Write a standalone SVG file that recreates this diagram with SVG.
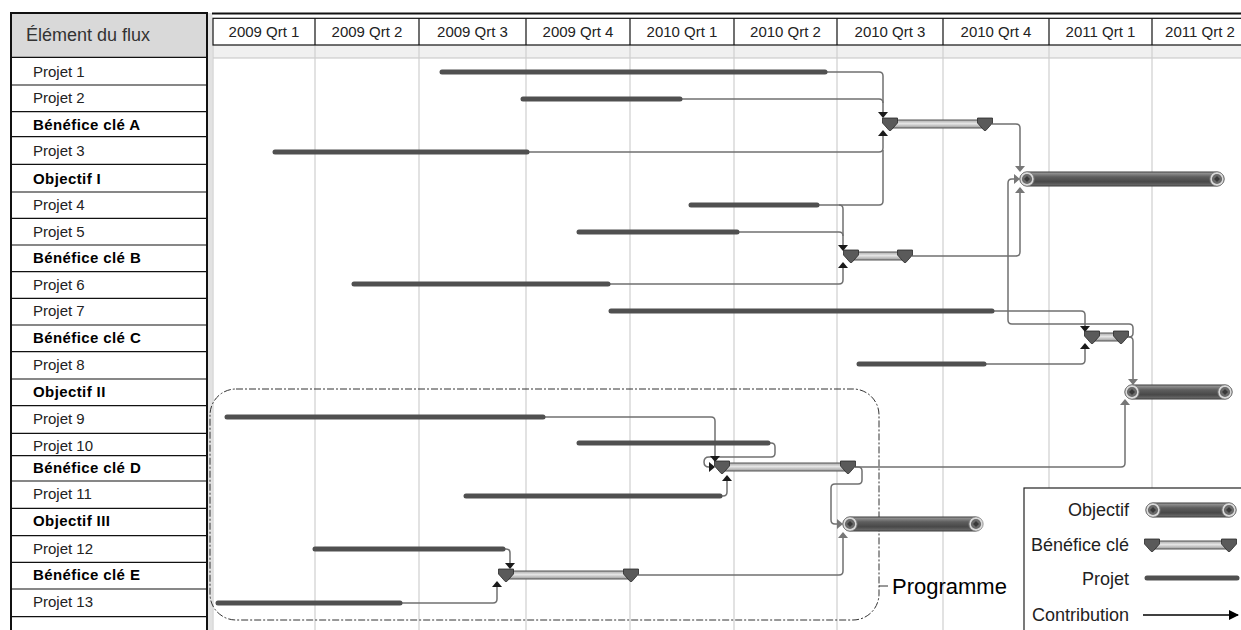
<svg xmlns="http://www.w3.org/2000/svg" width="1241" height="630" viewBox="0 0 1241 630">
<style>
text{font-family:"Liberation Sans",Arial,sans-serif}
.lbl{font-size:15px;fill:#222}
.b{font-weight:bold;fill:#000;letter-spacing:0.4px}
.q{font-size:15px;fill:#222;text-anchor:middle}
.grid{stroke:#cfcfcf;stroke-width:1.2}
.row{stroke:#111;stroke-width:1.2}
.proj{stroke:#505050;stroke-width:5;stroke-linecap:round}
.con{fill:none;stroke:#707070;stroke-width:1.5}
.bb{fill:url(#bg);stroke:#555;stroke-width:1}
.ob{fill:url(#og);stroke:#3a3a3a;stroke-width:1}
.bm{fill:#5a5a5a;stroke:#2a2a2a;stroke-width:0.8}
.ak{fill:#1a1a1a}
.ag{fill:#777}
.leg{font-size:18px;fill:#222;text-anchor:end}
</style>
<defs>
<linearGradient id="og" x1="0" y1="0" x2="0" y2="1">
<stop offset="0" stop-color="#a0a0a0"/><stop offset="0.35" stop-color="#5e5e5e"/><stop offset="0.7" stop-color="#484848"/><stop offset="1" stop-color="#707070"/>
</linearGradient>
<linearGradient id="bg" x1="0" y1="0" x2="0" y2="1">
<stop offset="0" stop-color="#a8a8a8"/><stop offset="0.45" stop-color="#e6e6e6"/><stop offset="1" stop-color="#9a9a9a"/>
</linearGradient>
<path id="td" d="M-5 -6 H5 L0 0 Z"/>
<path id="tu" d="M-5 6 H5 L0 0 Z"/>
<path id="tr" d="M-6 -5 V5 L0 0 Z"/>
<path id="bm" d="M-7.5 -6 H7.5 V-1 L0.8 6.5 H-0.8 L-7.5 -1 Z"/>
<g id="ring"><circle r="6" fill="#6a6a6a" stroke="#dadada" stroke-width="1.8"/><circle r="7.2" fill="none" stroke="#808080" stroke-width="0.7"/><path d="M0 -3 L3 0 L0 3 L-3 0 Z" fill="#3a3a3a"/></g>
<marker id="ah" viewBox="0 0 10 10" refX="9" refY="5" markerWidth="10" markerHeight="10" markerUnits="userSpaceOnUse" orient="auto"><path d="M0 0 L10 5 L0 10 Z" fill="#000"/></marker>
</defs>
<rect width="1241" height="630" fill="#fff"/>

<g id="table">
<rect x="11" y="13" width="196" height="44.3" fill="#d9d9d9"/>
<rect x="11" y="13" width="196" height="640" fill="none" stroke="#111" stroke-width="2"/>
<text x="26" y="41" style="font-size:18px;fill:#333">Élément du flux</text>
<g class="row">
<line x1="11" y1="57.3" x2="207" y2="57.3"/><line x1="11" y1="85" x2="207" y2="85"/><line x1="11" y1="111.7" x2="207" y2="111.7"/><line x1="11" y1="136.7" x2="207" y2="136.7"/><line x1="11" y1="164.3" x2="207" y2="164.3"/><line x1="11" y1="192" x2="207" y2="192"/><line x1="11" y1="218.3" x2="207" y2="218.3"/><line x1="11" y1="245" x2="207" y2="245"/><line x1="11" y1="271.7" x2="207" y2="271.7"/><line x1="11" y1="298.3" x2="207" y2="298.3"/><line x1="11" y1="325" x2="207" y2="325"/><line x1="11" y1="351.7" x2="207" y2="351.7"/><line x1="11" y1="379" x2="207" y2="379"/><line x1="11" y1="405.7" x2="207" y2="405.7"/><line x1="11" y1="433.3" x2="207" y2="433.3"/><line x1="11" y1="455.7" x2="207" y2="455.7"/><line x1="11" y1="481" x2="207" y2="481"/><line x1="11" y1="508.3" x2="207" y2="508.3"/><line x1="11" y1="535.7" x2="207" y2="535.7"/><line x1="11" y1="562.3" x2="207" y2="562.3"/><line x1="11" y1="589" x2="207" y2="589"/><line x1="11" y1="616.7" x2="207" y2="616.7"/>
</g>
<text class="lbl" x="33" y="76.5">Projet 1</text>
<text class="lbl" x="33" y="103">Projet 2</text>
<text class="lbl b" x="33" y="130">Bénéfice clé A</text>
<text class="lbl" x="33" y="156">Projet 3</text>
<text class="lbl b" x="33" y="184">Objectif I</text>
<text class="lbl" x="33" y="210">Projet 4</text>
<text class="lbl" x="33" y="236.5">Projet 5</text>
<text class="lbl b" x="33" y="263">Bénéfice clé B</text>
<text class="lbl" x="33" y="289.5">Projet 6</text>
<text class="lbl" x="33" y="316">Projet 7</text>
<text class="lbl b" x="33" y="343">Bénéfice clé C</text>
<text class="lbl" x="33" y="369.5">Projet 8</text>
<text class="lbl b" x="33" y="397">Objectif II</text>
<text class="lbl" x="33" y="424">Projet 9</text>
<text class="lbl" x="33" y="451">Projet 10</text>
<text class="lbl b" x="33" y="473">Bénéfice clé D</text>
<text class="lbl" x="33" y="499">Projet 11</text>
<text class="lbl b" x="33" y="526">Objectif III</text>
<text class="lbl" x="33" y="553.5">Projet 12</text>
<text class="lbl b" x="33" y="580">Bénéfice clé E</text>
<text class="lbl" x="33" y="607">Projet 13</text>
</g>

<g id="timeline">
<rect x="208" y="13" width="4.5" height="617" fill="#e2e2e2"/>
<line x1="212" y1="13.5" x2="1241" y2="13.5" stroke="#111" stroke-width="2"/>
<rect x="213" y="45" width="1028" height="13" fill="#f0f0f0"/>
<line x1="213" y1="58" x2="1241" y2="58" stroke="#c4c4c4" stroke-width="1"/>
<g class="grid">
<line x1="213" y1="45" x2="213" y2="630"/><line x1="315" y1="45" x2="315" y2="630"/><line x1="419" y1="45" x2="419" y2="630"/><line x1="526" y1="45" x2="526" y2="630"/><line x1="630" y1="45" x2="630" y2="630"/><line x1="734" y1="45" x2="734" y2="630"/><line x1="837" y1="45" x2="837" y2="630"/><line x1="943" y1="45" x2="943" y2="630"/><line x1="1049" y1="45" x2="1049" y2="630"/><line x1="1152" y1="45" x2="1152" y2="630"/>
</g>
<rect x="213" y="18.3" width="1040" height="26.7" fill="#fff" stroke="#111" stroke-width="1.2"/>
<g stroke="#111" stroke-width="1.2">
<line x1="315" y1="18.3" x2="315" y2="45"/><line x1="419" y1="18.3" x2="419" y2="45"/><line x1="526" y1="18.3" x2="526" y2="45"/><line x1="630" y1="18.3" x2="630" y2="45"/><line x1="734" y1="18.3" x2="734" y2="45"/><line x1="837" y1="18.3" x2="837" y2="45"/><line x1="943" y1="18.3" x2="943" y2="45"/><line x1="1049" y1="18.3" x2="1049" y2="45"/><line x1="1152" y1="18.3" x2="1152" y2="45"/>
</g>
<text class="q" x="264" y="37">2009 Qrt 1</text>
<text class="q" x="367" y="37">2009 Qrt 2</text>
<text class="q" x="472.5" y="37">2009 Qrt 3</text>
<text class="q" x="578" y="37">2009 Qrt 4</text>
<text class="q" x="682" y="37">2010 Qrt 1</text>
<text class="q" x="785.5" y="37">2010 Qrt 2</text>
<text class="q" x="890" y="37">2010 Qrt 3</text>
<text class="q" x="996" y="37">2010 Qrt 4</text>
<text class="q" x="1100.5" y="37">2011 Qrt 1</text>
<text class="q" x="1200" y="37">2011 Qrt 2</text>
</g>

<g id="programme">
<rect x="210" y="389" width="669" height="231" rx="26" fill="none" stroke="#333" stroke-width="1" stroke-dasharray="7 2 2 2"/>
<line x1="879" y1="586" x2="888" y2="586" stroke="#333" stroke-width="1"/>
<text x="892" y="594" style="font-size:22px;fill:#000">Programme</text>
</g>

<g id="connectors">
<path class="con" d="M825 72 H879 Q883 72 883 76 V112"/>
<path class="con" d="M680 99 H879 Q883 99 883 103"/>
<path class="con" d="M527 152 H879 Q883 152 883 148 V135"/>
<path class="con" d="M817 205 H879 Q883 205 883 201 V150"/>
<path class="con" d="M839 205 Q843 205 843 209 V245"/>
<path class="con" d="M737 232 H839 Q843 232 843 236"/>
<path class="con" d="M608 284 H839 Q843 284 843 280 V267"/>
<path class="con" d="M912 256 H1016 Q1020 256 1020 252 V193"/>
<path class="con" d="M992 124 H1016 Q1020 124 1020 128 V166"/>
<path class="con" d="M992 311 H1081 Q1085 311 1085 315 V326"/>
<path class="con" d="M984 364 H1081 Q1085 364 1085 360 V349"/>
<path class="con" d="M1127 337 H1129 Q1133 337 1133 333 V328 Q1133 324 1129 324 H1012 Q1008 324 1008 320 V183 Q1008 179 1012 179 H1014"/>
<path class="con" d="M1129 337 Q1133 337 1133 341 V380"/>
<path class="con" d="M543 417 H711 Q715 417 715 421 V456"/>
<path class="con" d="M768 443 H771 Q775 443 775 447 V453 Q775 457 771 457 H709 Q704 457 704 462 Q704 467 709 467 H710"/>
<path class="con" d="M720 496 H723 Q727 496 727 492 V481"/>
<path class="con" d="M855 467 H1121 Q1125 467 1125 463 V405"/>
<path class="con" d="M855 467 H858 Q862 467 862 471 V480 Q862 484 858 484 H835 Q831 484 831 488 V520 Q831 524 835 524 H838"/>
<path class="con" d="M503 549 H506 Q510 549 510 553 V563"/>
<path class="con" d="M400 603 H493 Q497 603 497 599 V586"/>
<path class="con" d="M638 575 H839 Q843 575 843 571 V538"/>
<use href="#td" x="883" y="118" class="ak"/><use href="#tu" x="883" y="130" class="ak"/>
<use href="#td" x="843" y="251" class="ak"/><use href="#tu" x="843" y="262" class="ak"/>
<use href="#td" x="1085" y="332" class="ak"/><use href="#tu" x="1085" y="343" class="ak"/>
<use href="#td" x="715" y="462" class="ak"/><use href="#tr" x="715" y="467" class="ak"/><use href="#tu" x="727" y="475" class="ak"/>
<use href="#td" x="510" y="569" class="ak"/><use href="#tu" x="497" y="581" class="ak"/>
<use href="#td" x="1020" y="172" class="ag"/><use href="#tu" x="1020" y="187" class="ag"/><use href="#tr" x="1020" y="179" class="ag"/>
<use href="#td" x="1133" y="385" class="ag"/><use href="#tu" x="1125" y="399" class="ag"/>
<use href="#tr" x="843" y="524" class="ag"/><use href="#tu" x="843" y="532" class="ag"/>
</g>

<g id="projet-1"><line class="proj" x1="442" y1="72" x2="825" y2="72"/></g>
<g id="projet-2"><line class="proj" x1="523" y1="99" x2="680" y2="99"/></g>
<g id="projet-3"><line class="proj" x1="275" y1="152" x2="527" y2="152"/></g>
<g id="projet-4"><line class="proj" x1="691" y1="205" x2="817" y2="205"/></g>
<g id="projet-5"><line class="proj" x1="579" y1="232" x2="737" y2="232"/></g>
<g id="projet-6"><line class="proj" x1="354" y1="284" x2="608" y2="284"/></g>
<g id="projet-7"><line class="proj" x1="611" y1="311" x2="992" y2="311"/></g>
<g id="projet-8"><line class="proj" x1="859" y1="364" x2="984" y2="364"/></g>
<g id="projet-9"><line class="proj" x1="227" y1="417" x2="543" y2="417"/></g>
<g id="projet-10"><line class="proj" x1="579" y1="443" x2="768" y2="443"/></g>
<g id="projet-11"><line class="proj" x1="466" y1="496" x2="720" y2="496"/></g>
<g id="projet-12"><line class="proj" x1="315" y1="549" x2="503" y2="549"/></g>
<g id="projet-13"><line class="proj" x1="218" y1="603" x2="400" y2="603"/></g>

<g id="benefice-A"><rect class="bb" x="890" y="120" width="95" height="8"/><use href="#bm" x="890" y="124" class="bm"/><use href="#bm" x="985" y="124" class="bm"/></g>
<g id="benefice-B"><rect class="bb" x="851" y="252" width="54" height="8"/><use href="#bm" x="851" y="256" class="bm"/><use href="#bm" x="905" y="256" class="bm"/></g>
<g id="benefice-C"><rect class="bb" x="1092" y="333" width="29" height="8"/><use href="#bm" x="1092" y="337" class="bm"/><use href="#bm" x="1121" y="337" class="bm"/></g>
<g id="benefice-D"><rect class="bb" x="722" y="463" width="126" height="8"/><use href="#bm" x="722" y="467" class="bm"/><use href="#bm" x="848" y="467" class="bm"/></g>
<g id="benefice-E"><rect class="bb" x="506" y="571" width="125" height="8"/><use href="#bm" x="506" y="575" class="bm"/><use href="#bm" x="631" y="575" class="bm"/></g>

<g id="objectif-I"><rect class="ob" x="1020" y="172" width="204" height="14" rx="7"/><use href="#ring" x="1027" y="179"/><use href="#ring" x="1217" y="179"/></g>
<g id="objectif-II"><rect class="ob" x="1125" y="385" width="107" height="14" rx="7"/><use href="#ring" x="1132" y="392"/><use href="#ring" x="1225" y="392"/></g>
<g id="objectif-III"><rect class="ob" x="843" y="517" width="139" height="14" rx="7"/><use href="#ring" x="850" y="524"/><use href="#ring" x="976" y="524"/></g>

<g id="legend">
<rect x="1024" y="488" width="230" height="150" fill="#fff" stroke="#222" stroke-width="1.2"/>
<text class="leg" x="1129" y="516">Objectif</text>
<text class="leg" x="1129" y="551">Bénéfice clé</text>
<text class="leg" x="1129" y="585">Projet</text>
<text class="leg" x="1129" y="621">Contribution</text>
<rect class="ob" x="1146" y="503" width="90" height="14" rx="7"/><use href="#ring" x="1153" y="510"/><use href="#ring" x="1229" y="510"/>
<rect class="bb" x="1152" y="541" width="77" height="8"/><use href="#bm" x="1152" y="545" class="bm"/><use href="#bm" x="1229" y="545" class="bm"/>
<line class="proj" x1="1147" y1="578" x2="1237" y2="578"/>
<line x1="1143" y1="615" x2="1238" y2="615" stroke="#000" stroke-width="1.3" marker-end="url(#ah)"/>
</g>
</svg>
